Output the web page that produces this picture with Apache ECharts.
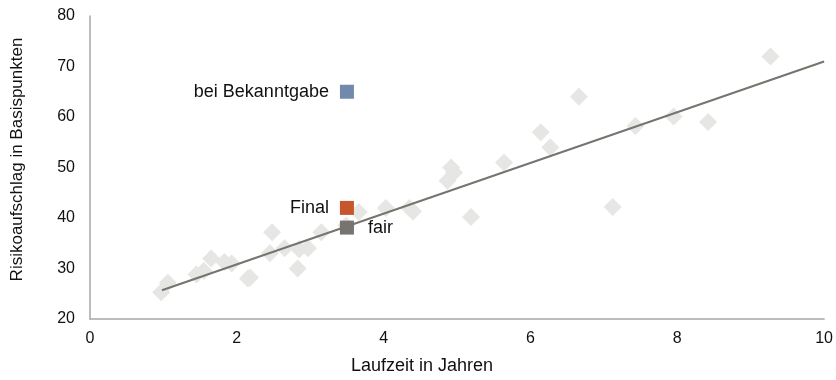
<!DOCTYPE html>
<html>
<head>
<meta charset="utf-8">
<script src="https://cdn.jsdelivr.net/npm/echarts@6/dist/echarts.min.js"></script>
<style>html,body{margin:0;padding:0;background:#fff}#c{width:836px;height:380px}</style>
</head>
<body>
<div id="c"></div>
<script>
// Bonds: maturity (years) and spread (bp)
const bondX = [0.97, 1.06, 1.45, 1.55, 1.65, 1.83, 1.93, 2.15, 2.18, 2.48, 2.45, 2.65, 2.83, 2.85, 2.97, 3.15, 3.49, 3.66, 4.03, 4.35, 4.4, 4.87, 4.92, 4.96, 5.19, 5.64, 6.14, 6.27, 6.66, 7.12, 7.43, 7.95, 8.42, 9.27];
const bondY = [25.3, 27.2, 28.8, 29.5, 32.0, 31.3, 31.0, 28.0, 28.2, 37.2, 33.0, 34.0, 30.0, 33.8, 34.0, 37.2, 38.5, 41.2, 42.0, 42.0, 41.3, 47.4, 50.0, 49.0, 40.2, 51.0, 57.0, 54.0, 64.0, 42.2, 58.2, 60.1, 59.0, 72.0];
const trendX = [0.98, 10];
const trendY = [25.7, 71.0];
const markNames = ["bei Bekanntgabe", "Final", "fair"];
const markX = [3.5, 3.5, 3.5];
const markY = [65.0, 42.0, 38.1];
const markColors = ["#7189AB", "#C8562D", "#77746F"];
const labelSide = ["left", "left", "right"];
const xTicks = [0, 2, 4, 6, 8, 10];
const yTicks = [20, 30, 40, 50, 60, 70, 80];

const font = "'Liberation Sans', Arial, sans-serif";
const chart = echarts.init(document.getElementById('c'), null, {renderer: 'canvas'});

const markSeries = markNames.map((n, i) => ({
  type: 'scatter',
  name: n,
  symbol: 'rect',
  symbolSize: 14,
  z: 5,
  itemStyle: {color: markColors[i], opacity: 1},
  label: {
    show: true,
    position: labelSide[i],
    distance: labelSide[i] === 'left' ? 11 : 14,
    formatter: n,
    color: '#111',
    fontSize: 18,
    fontFamily: font
  },
  data: [[markX[i], markY[i]]]
}));

chart.setOption({
  animation: false,
  backgroundColor: '#fff',
  grid: {left: 90, right: 10, top: 16, bottom: 59},
  xAxis: {
    type: 'value', min: xTicks[0], max: xTicks[xTicks.length - 1], interval: 2,
    name: 'Laufzeit in Jahren', nameLocation: 'middle', nameGap: 38,
    nameTextStyle: {color: '#111', fontSize: 18, fontFamily: font, padding: [0, 70, 0, 0]},
    axisLine: {show: true, lineStyle: {color: '#A6A6A6', width: 1.5}},
    axisTick: {show: false},
    axisLabel: {color: '#111', fontSize: 16, fontFamily: font, margin: 12},
    splitLine: {show: false}
  },
  yAxis: {
    type: 'value', min: yTicks[0], max: yTicks[yTicks.length - 1], interval: 10,
    name: 'Risikoaufschlag in Basispunkten', nameLocation: 'middle', nameGap: 64,
    nameTextStyle: {color: '#111', fontSize: 17, fontFamily: font, padding: [0, 0, 0, 16]},
    axisLine: {show: true, lineStyle: {color: '#A6A6A6', width: 1.5}},
    axisTick: {show: false},
    axisLabel: {color: '#111', fontSize: 16, fontFamily: font, margin: 15},
    splitLine: {show: false}
  },
  series: [
    {
      type: 'scatter', symbol: 'diamond', symbolSize: 18, z: 1,
      itemStyle: {color: '#E6E6E4', opacity: 1},
      data: bondX.map((x, i) => [x, bondY[i]])
    },
    {
      type: 'line', showSymbol: false, symbol: 'none', z: 3,
      lineStyle: {color: '#77746F', width: 2},
      data: trendX.map((x, i) => [x, trendY[i]])
    },
    ...markSeries
  ]
});
</script>
</body>
</html>
